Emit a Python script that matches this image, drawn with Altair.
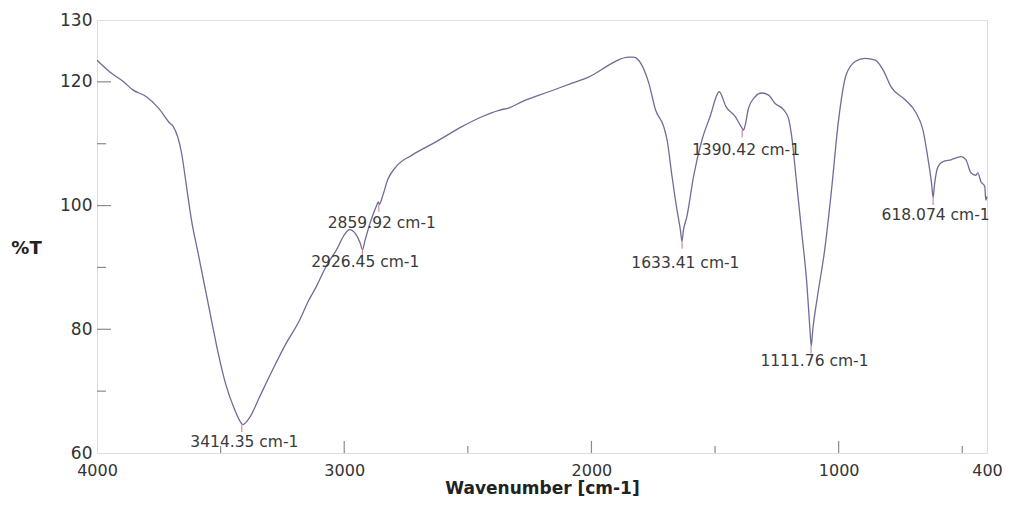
import altair as alt
import pandas as pd

# Spectrum
wavenumber = [4000, 3948, 3895, 3855, 3800, 3752, 3705, 3692, 3658, 3638, 3618, 3591, 3564, 3537,
              3510, 3477, 3443, 3416, 3410, 3383, 3342, 3289, 3234, 3180, 3146, 3113, 3073, 3032,
              2999, 2979, 2952, 2936, 2926, 2915, 2891, 2871, 2862, 2858, 2845, 2824, 2790, 2724,
              2629, 2522, 2441, 2374, 2333, 2280, 2172, 2078, 2010, 1930, 1889, 1849, 1830, 1809,
              1768, 1741, 1708, 1694, 1674, 1654, 1640, 1634, 1628, 1614, 1587, 1553, 1520, 1483,
              1456, 1419, 1392, 1385, 1378, 1365, 1338, 1312, 1285, 1257, 1223, 1203, 1190, 1170,
              1149, 1129, 1117, 1111, 1105, 1085, 1056, 1029, 1002, 970, 933, 893, 852, 820, 788,
              731, 687, 659, 638, 624, 618, 612, 598, 578, 546, 505, 485, 465, 445, 437, 425, 409,
              405, 400]
transmittance = [123.5, 121.6, 120.1, 118.7, 117.6, 115.8, 113.3, 112.8, 108.5, 103.1, 97.7, 92.3, 86.9, 81.5,
                 76.2, 70.8, 67.0, 64.8, 64.6, 65.7, 69.1, 73.5, 77.8, 81.5, 84.5, 86.9, 90.2, 92.8,
                 95.3, 96.1, 95.3, 94.0, 92.9, 94.5, 97.7, 99.8, 100.6, 100.2, 101.5, 104.2, 106.3, 108.2,
                 110.3, 112.8, 114.4, 115.4, 115.8, 116.8, 118.4, 119.8, 120.8, 122.7, 123.6, 124.0, 124.0, 123.5,
                 119.8, 115.5, 112.8, 110.6, 104.7, 99.3, 96.0, 94.2, 96.0, 98.2, 104.7, 110.6, 114.4, 118.4,
                 116.0, 114.4, 112.6, 112.2, 113.0, 115.7, 117.6, 118.2, 117.9, 116.5, 115.5, 114.1, 111.2, 103.6,
                 95.5, 87.5, 80.5, 77.3, 79.8, 85.5, 93.0, 102.5, 113.3, 121.1, 123.3, 123.8, 123.5, 121.9, 119.2,
                 117.1, 115.0, 112.2, 107.4, 103.5, 101.3, 103.5, 106.3, 107.1, 107.4, 107.9, 107.4, 105.3, 104.9, 105.3, 103.9, 103.1,
                 100.9, 101.5]

# Peak annotations
peak_labels = ["3414.35 cm-1", "2859.92 cm-1", "2926.45 cm-1", "1633.41 cm-1",
               "1390.42 cm-1", "1111.76 cm-1", "618.074 cm-1"]
peak_x = [3414.35, 2859.92, 2926.45, 1633.41, 1390.42, 1111.76, 618.074]
peak_y = [64.6, 100.2, 92.9, 94.2, 112.2, 77.3, 101.3]
label_x = [3404, 2848, 2915, 1620, 1375, 1098, 608]
label_y = [61.8, 97.2, 90.8, 90.7, 109.0, 74.8, 98.5]

# Axis ticks
x_major = [3000, 2000, 1000]
x_minor = [3500, 2500, 1500, 500]
y_major = [80, 100, 120]
y_minor = [70, 90, 110]

spec = pd.DataFrame({"wn": wavenumber, "t": transmittance})
peaks = pd.DataFrame({"wn": peak_x, "t": peak_y, "lx": label_x, "ly": label_y, "label": peak_labels})

W, H = 890, 433
FONT = "DejaVu Sans"
TXT = "#333333"

xscale = alt.Scale(domain=[400, 4000], reverse=True, nice=False, zero=False)
yscale = alt.Scale(domain=[60, 130], nice=False, zero=False)

line = alt.Chart(spec).mark_line(color="#6e6c98", strokeWidth=1.3, interpolate="monotone").encode(
    x=alt.X("wn:Q", scale=xscale, title="Wavenumber [cm-1]",
            axis=alt.Axis(values=[4000, 3000, 2000, 1000, 400], ticks=False, domain=False, grid=False,
                          labelFont=FONT, labelFontSize=16, labelColor=TXT, labelPadding=9,
                          labelFlush=False, labelOverlap=False, labelBound=False,
                          titleFont=FONT, titleFontSize=17, titleFontWeight="bold", titleColor="#222222",
                          titlePadding=2, format="d")),
    y=alt.Y("t:Q", scale=yscale, title="%T",
            axis=alt.Axis(values=[60, 70, 80, 90, 100, 110, 120, 130], ticks=False, domain=False, grid=False,
                          labelExpr="(datum.value % 20 == 0 || datum.value == 130) ? datum.label : ''",
                          labelFont=FONT, labelFontSize=17, labelColor=TXT, labelPadding=5,
                          labelFlush=False, labelOverlap=False,
                          titleFont=FONT, titleFontSize=18, titleFontWeight="bold", titleColor="#222222",
                          titleAngle=0, titleAlign="center", titleBaseline="middle",
                          titleX=-71, titleY=228)),
)

markers = alt.Chart(peaks).transform_calculate(t2="datum.t - 1.2").mark_rule(
    color="#d88a96", strokeWidth=1.2).encode(
    x=alt.X("wn:Q", scale=xscale),
    y=alt.Y("t:Q", scale=yscale),
    y2="t2:Q",
)

labels = alt.Chart(peaks).mark_text(font=FONT, fontSize=15.5, color="#3a3a3a",
                                    align="center", baseline="middle").encode(
    x=alt.X("lx:Q", scale=xscale),
    y=alt.Y("ly:Q", scale=yscale),
    text="label:N",
)

xt_major = alt.Chart(pd.DataFrame({"v": x_major})).mark_rule(color="#8a8a8a", strokeWidth=1.2).encode(
    x=alt.X("v:Q", scale=xscale), y=alt.value(H), y2=alt.value(H - 12))
xt_minor = alt.Chart(pd.DataFrame({"v": x_minor})).mark_rule(color="#8a8a8a", strokeWidth=1.2).encode(
    x=alt.X("v:Q", scale=xscale), y=alt.value(H), y2=alt.value(H - 7))
yt_major = alt.Chart(pd.DataFrame({"v": y_major})).mark_rule(color="#8a8a8a", strokeWidth=1.2).encode(
    y=alt.Y("v:Q", scale=yscale), x=alt.value(0), x2=alt.value(14))
yt_minor = alt.Chart(pd.DataFrame({"v": y_minor})).mark_rule(color="#8a8a8a", strokeWidth=1.2).encode(
    y=alt.Y("v:Q", scale=yscale), x=alt.value(0), x2=alt.value(9))

chart = alt.layer(xt_major, xt_minor, yt_major, yt_minor, line, markers, labels).properties(
    width=W, height=H,
    autosize=alt.AutoSizeParams(type="none"),
    padding={"left": 89, "top": 12, "right": 15, "bottom": 47},
).configure_view(stroke="#8c8c8c", strokeWidth=1.6).configure(background="white")

chart.save("out.html", embed_options={"renderer": "svg", "actions": False})
